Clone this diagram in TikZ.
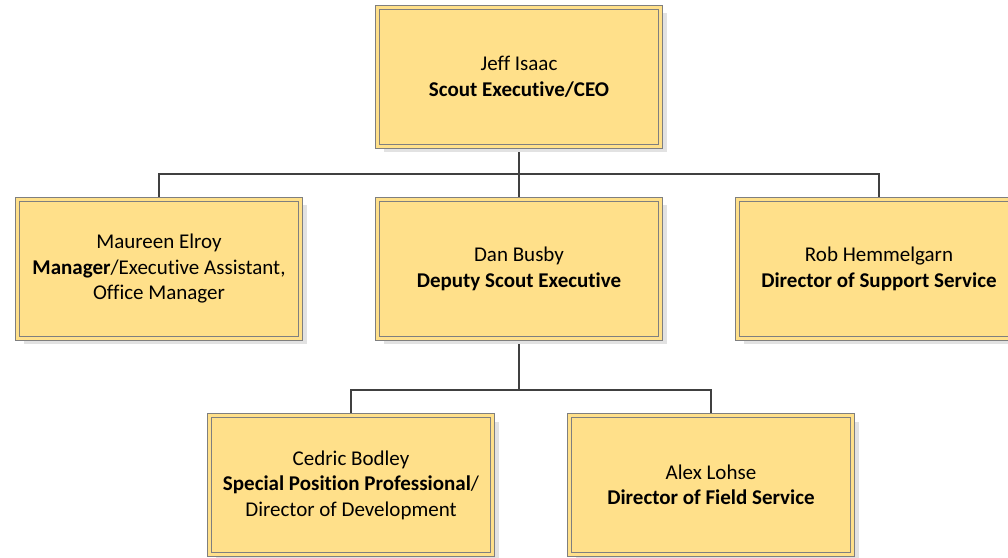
\documentclass[tikz,border=0pt]{standalone}
\usepackage{fontspec}
\setmainfont{Carlito}[Ligatures=NoCommon]
\usepackage{tikz}
\usetikzlibrary{positioning}
\usetikzlibrary{shadows}
\usetikzlibrary{backgrounds}
\definecolor{boxfill}{HTML}{FFE08A}
\definecolor{boxline}{HTML}{7F7F7F}
\definecolor{wireline}{HTML}{404040}
\definecolor{shadegray}{HTML}{E2E2E2}

\begin{document}
\begin{tikzpicture}[x=1pt,y=1pt]
    \tikzstyle{staff}=[draw=boxline,line width=1pt,double=boxfill,double distance=3pt,
        fill=boxfill,outer sep=0pt,minimum width=283pt,minimum height=139pt,
        align=center,font=\fontsize{21}{25.5}\selectfont,
        drop shadow={shadow xshift=6pt,shadow yshift=-6pt,fill=shadegray,opacity=1}]
    \tikzstyle{wire}=[draw=wireline,line width=2.5pt]

    \clip (0,0) rectangle (1008,557);

    \node[staff] (ceo) at (519,480) {Jeff Isaac\\\textbf{Scout Executive/CEO}} ;
    \node[staff,below=53pt of ceo] (busby) {Dan Busby\\\textbf{Deputy Scout Executive}} ;
    \node[staff,left=77pt of busby] (elroy) {Maureen Elroy\\\textbf{Manager}/Executive Assistant,\\Office Manager} ;
    \node[staff,right=77pt of busby] (hemmel) {Rob Hemmelgarn\\\textbf{Director of Support Service}} ;

    \node[staff,below=77pt of busby,xshift=-168pt] (bodley) {Cedric Bodley\\\textbf{Special Position Professional}/\\Director of Development} ;
    \node[staff,below=77pt of busby,xshift=192pt] (lohse) {Alex Lohse\\\textbf{Director of Field Service}} ;

    \begin{scope}[on background layer]
    \draw[wire] (ceo.south) -- (busby.north) ;
    \draw[wire] (elroy.north) -- ++(0,25.5) -| (hemmel.north) ;
    \draw[wire] (bodley.north) -- ++(0,25.5) coordinate (tee) -| (lohse.north) ;
    \draw[wire] (busby.south) -- (busby.south |- tee) ;
    \end{scope}

  \end{tikzpicture}
\end{document}
